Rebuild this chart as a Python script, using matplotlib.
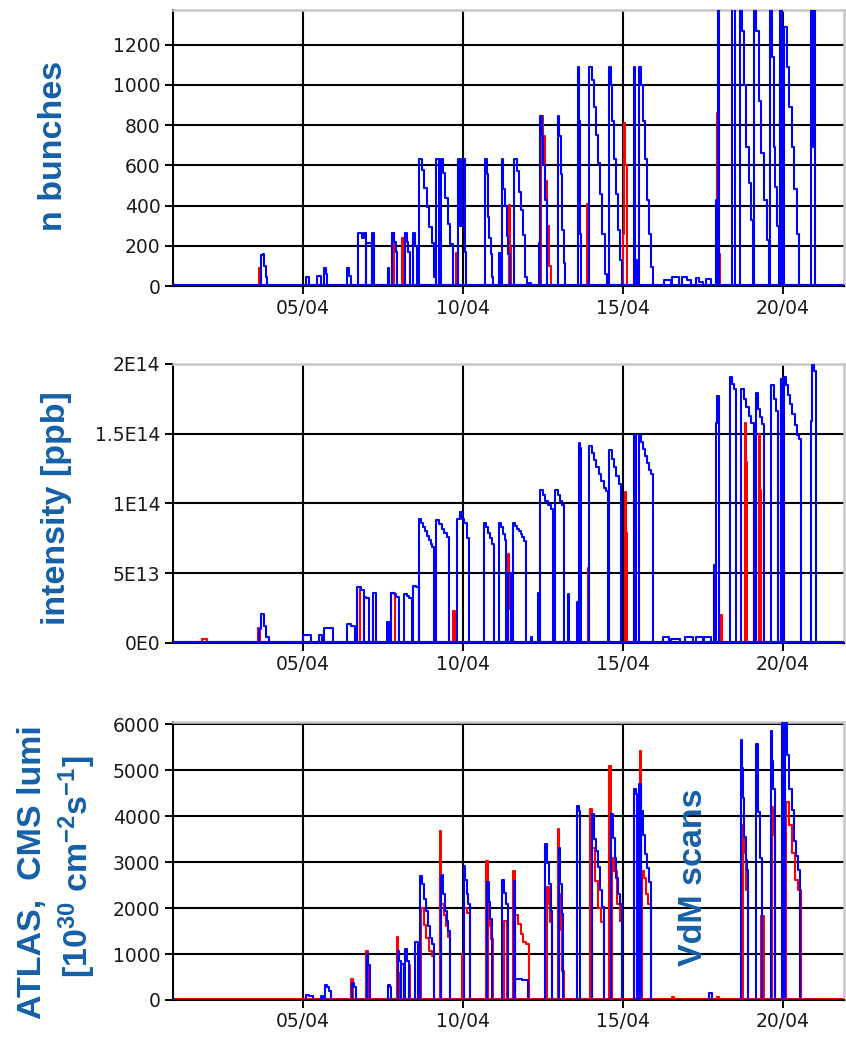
import numpy as np
import matplotlib.pyplot as plt

# x axis: day of April
day_ticks = [5, 10, 15, 20]
day_labels = ['05/04', '10/04', '15/04', '20/04']

# each fill: (start day, end day, step levels)
# --- n bunches ---
bunch_blue = [
    (3.68, 3.88, [154, 159, 100, 46]),
    (5.09, 5.20, [46]), (5.42, 5.56, [50]), (5.66, 5.75, [88, 60]),
    (6.38, 6.50, [88, 50]),
    (6.72, 6.98, [265, 265, 240, 265]), (6.98, 7.16, [212]), (7.16, 7.22, [265]),
    (7.66, 7.70, [88]), (7.78, 7.95, [265, 220, 170]),
    (8.20, 8.33, [265, 220, 170]), (8.45, 8.55, [265, 200]),
    (8.64, 9.17, [630, 577, 486, 395, 295, 212, 46]),
    (9.17, 9.26, [630]), (9.30, 9.75, [630, 560, 440, 310, 210, 5]),
    (9.86, 10.11, [630, 300, 630, 630, 170]),
    (10.70, 10.95, [630, 555, 345, 240, 160, 46]),
    (11.13, 11.20, [162]), (11.22, 11.47, [630, 480, 400, 250, 160]),
    (11.61, 12.02, [630, 570, 470, 380, 255, 46]),
    (12.08, 12.12, [15]),
    (12.37, 12.42, [212]), (12.42, 12.62, [846, 748, 600, 430]),
    (12.96, 13.20, [846, 745, 555, 280, 115]),
    (13.59, 13.68, [1091, 820, 260]),
    (13.96, 14.50, [1091, 1025, 890, 750, 610, 460, 260, 60]),
    (14.56, 14.97, [1091, 1000, 820, 630, 460, 280, 130]),
    (15.34, 15.40, [1091, 540]), (15.40, 15.45, [130]),
    (15.50, 15.95, [1091, 1000, 820, 630, 430, 260, 95]),
    (16.30, 16.50, [30]), (16.55, 16.75, [46]), (16.85, 17.15, [45, 30]),
    (17.30, 17.50, [40, 20]), (17.60, 17.75, [35]),
    (17.92, 17.96, [428]), (17.98, 18.02, [1400]),
    (18.42, 18.52, [1400, 1400]),
    (18.67, 19.07, [1400, 1270, 1000, 690, 510, 330]),
    (19.10, 19.58, [1400, 1270, 920, 660, 430, 230]),
    (19.60, 19.90, [1400, 1140, 690, 490, 300]),
    (19.93, 19.99, [1400]),
    (20.05, 20.52, [1290, 1090, 890, 690, 480, 260]),
    (20.90, 21.03, [1400, 690, 1400]),
]
bunch_red = [
    (3.62, 3.68, [88]), (7.78, 7.83, [265]), (8.10, 8.16, [240]),
    (9.78, 9.83, [162]), (11.44, 11.52, [403, 196]),
    (12.45, 12.75, [846, 748, 520, 300, 100]),
    (13.88, 13.93, [410]), (15.00, 15.12, [260, 809, 600]),
    (17.96, 18.05, [859, 160]), (19.93, 20.02, [1150, 1400, 800]),
]

# --- intensity [1e13 ppb] ---
inten_blue = [
    (3.62, 3.92, [1.0, 2.1, 1.2, 0.4]),
    (5.00, 5.25, [0.6]), (5.50, 5.60, [0.6]), (5.64, 5.95, [1.1]),
    (6.36, 6.62, [1.35, 1.2]),
    (6.70, 6.90, [4.0, 3.8]), (6.90, 7.05, [3.3, 3.2]), (7.20, 7.28, [3.6]),
    (7.64, 7.70, [1.5]), (7.76, 8.00, [3.6, 3.5, 3.3]),
    (8.17, 8.40, [3.5, 3.4, 3.2]), (8.45, 8.62, [4.1, 4.0]),
    (8.62, 9.11, [8.9, 8.6, 8.3, 8.0, 7.7, 7.4, 7.1, 6.9]),
    (9.17, 9.58, [8.8, 8.5, 8.2, 7.9, 7.6]),
    (9.82, 10.20, [8.9, 9.4, 8.9, 8.6, 7.5]),
    (10.67, 10.98, [8.6, 8.3, 7.9, 7.5, 7.1]),
    (11.14, 11.36, [8.6, 8.3, 7.8, 7.4]), (11.42, 11.50, [5.0]),
    (11.57, 11.98, [8.6, 8.4, 8.2, 8.0, 7.8, 7.6, 7.3]),
    (12.12, 12.16, [0.4]),
    (12.36, 12.42, [3.6]), (12.42, 12.83, [11.0, 10.6, 10.2, 9.9, 9.6]),
    (12.89, 13.17, [11.0, 10.6, 10.2, 9.9]),
    (13.28, 13.31, [3.5]),
    (13.57, 13.62, [2.9]), (13.63, 13.70, [14.3, 14.0]),
    (13.95, 14.55, [14.1, 13.6, 13.1, 12.6, 12.1, 11.6, 11.1, 10.9]),
    (14.58, 14.95, [13.8, 13.2, 12.6, 12.0, 11.4]),
    (15.35, 15.42, [14.9]),
    (15.50, 15.95, [14.9, 14.4, 13.9, 13.4, 12.9, 12.4, 12.1]),
    (16.25, 16.45, [0.4]), (16.50, 16.80, [0.3]), (16.95, 17.20, [0.45]),
    (17.30, 17.50, [0.4]), (17.55, 17.75, [0.45]),
    (17.85, 17.90, [5.6]), (17.92, 18.00, [15.8, 17.7]),
    (18.36, 18.55, [19.1, 18.6, 18.2]),
    (18.70, 19.10, [18.2, 17.5, 16.9, 16.3, 15.8]),
    (19.17, 19.42, [17.9, 16.8, 16.2, 15.7]),
    (19.63, 19.85, [18.5, 18.5, 17.5, 16.6]),
    (19.95, 20.02, [18.9]),
    (20.05, 20.57, [19.1, 18.5, 17.8, 17.1, 16.4, 15.6, 14.9, 14.6]),
    (20.88, 21.05, [15.9, 19.9, 19.5]),
]
inten_red = [
    (1.85, 2.00, [0.3]), (3.58, 3.65, [1.1]), (6.70, 6.78, [4.0]),
    (7.76, 7.86, [3.6]), (9.70, 9.76, [2.3]), (11.40, 11.50, [6.4, 4.5, 2.4]),
    (13.90, 13.96, [5.4, 3.9]), (15.07, 15.12, [10.8, 7.9]),
    (18.05, 18.10, [2.0]), (18.84, 18.90, [15.8, 13.0]),
    (19.10, 19.17, [9.4, 8.4]), (19.27, 19.33, [15.0, 11.0]),
    (19.95, 20.05, [18.9, 16.0, 13.0, 10.6]),
]

# --- ATLAS, CMS lumi [1e30 cm-2 s-1] ---
lumi_blue = [
    (5.10, 5.30, [116, 90]),
    (5.55, 5.62, [80]), (5.68, 5.86, [333, 290, 200]),
    (6.54, 6.64, [360, 290]),
    (6.99, 7.10, [1000, 760]),
    (7.67, 7.75, [330, 280]),
    (7.96, 8.05, [1072, 840]), (8.05, 8.15, [780]), (8.20, 8.30, [1100, 850]),
    (8.50, 8.60, [1253, 1253]),
    (8.67, 9.10, [2703, 2520, 2200, 1940, 1620, 1360, 1220]),
    (9.33, 9.60, [2710, 2300, 1940, 1720, 1510]),
    (10.02, 10.22, [2920, 2620, 2300, 2080]),
    (10.75, 10.92, [2560, 2130, 1770]),
    (11.22, 11.40, [2620, 2330, 2080]),
    (11.60, 11.64, [2600]), (11.64, 12.05, [456, 430]),
    (12.57, 12.80, [3391, 2990, 2520, 1940]),
    (13.00, 13.13, [3318, 2520, 1870]),
    (13.58, 13.66, [4224, 4120]),
    (14.03, 14.40, [4043, 3500, 3250, 2900, 2400, 2015]),
    (14.63, 14.97, [4043, 3530, 3100, 2660, 2300, 2100]),
    (15.36, 15.45, [4587, 4480]),
    (15.52, 15.58, [4700]), (15.58, 15.87, [4120, 3590, 3170, 2880, 2570]),
    (17.70, 17.78, [145]),
    (18.70, 18.92, [5652, 5050, 4400, 3550, 3040, 2830]),
    (19.17, 19.35, [5565, 4100, 3100]),
    (19.65, 19.75, [5855, 5200, 4590]),
    (19.98, 20.02, [6036]),
    (20.08, 20.55, [6036, 5340, 4590, 4140, 3460, 3130, 2830]),
]
lumi_red = [
    (6.50, 6.56, [456]), (6.98, 7.02, [1072]), (7.02, 7.08, [740]),
    (7.94, 7.98, [1362]), (8.00, 8.05, [580]), (8.30, 8.36, [760]),
    (8.70, 9.10, [2000, 1640, 1360, 1070, 950]),
    (9.28, 9.33, [3681]), (9.33, 9.60, [2100, 1850, 1600, 1380]),
    (9.97, 10.02, [1000, 420]), (10.05, 10.22, [2000, 1900]),
    (10.72, 10.78, [3029]), (10.78, 10.94, [1890, 1600, 1330]),
    (11.30, 11.38, [1720]),
    (11.58, 11.64, [2811]), (11.64, 12.06, [1860, 1650, 1440, 1260, 1217]),
    (12.62, 12.80, [2450, 2100, 1700]),
    (12.96, 13.00, [3717]), (13.00, 13.15, [2300, 1900, 1530, 640]),
    (13.98, 14.03, [4152]), (14.03, 14.43, [3300, 2600, 2000, 1700]),
    (14.58, 14.63, [5094]), (14.65, 14.99, [3100, 2800, 2100, 1720]),
    (15.45, 15.50, [1720]), (15.53, 15.57, [5420]),
    (15.60, 15.87, [2800, 2660, 2300, 2080]),
    (16.55, 16.60, [70]), (17.95, 18.00, [70]),
    (18.75, 18.93, [3800, 3200, 2400]),
    (19.32, 19.42, [1833]), (19.68, 19.75, [4200, 3600]),
    (20.10, 20.58, [4300, 3800, 3210, 2620, 2400]),
]

label_blue = '#1560a8'
x_lo, x_hi = 0.93, 21.92

plt.rcParams['font.family'] = 'DejaVu Sans'
plt.rcParams['mathtext.fontset'] = 'custom'
plt.rcParams['mathtext.rm'] = 'Liberation Sans:bold'
plt.rcParams['mathtext.it'] = 'Liberation Sans:bold'
plt.rcParams['mathtext.bf'] = 'Liberation Sans:bold'


def draw_fills(ax, fills, color, base, z):
    ax.plot([x_lo, x_hi], [base, base], color=color, lw=1.5, zorder=z)
    for t0, t1, levels in fills:
        edges = np.linspace(t0, t1, len(levels) + 1)
        xs = np.concatenate([[t0], edges])
        ys = np.concatenate([[base], levels, [base]])
        ax.plot(xs, ys, drawstyle='steps-post', color=color, lw=1.5, zorder=z)


def style_axes(ax, yticks, ylabels, ytop):
    ax.set_xlim(x_lo, x_hi)
    ax.set_ylim(0, ytop)
    ax.set_xticks(day_ticks)
    ax.set_xticklabels(day_labels)
    ax.set_yticks(yticks)
    ax.set_yticklabels(ylabels)
    ax.grid(True, color='black', lw=1.5)
    ax.set_axisbelow(True)
    ax.tick_params(direction='out', length=6, width=1.4, color='black',
                   labelsize=13.5, labelcolor='#1a1a1a', pad=3)
    for side in ['left', 'bottom']:
        ax.spines[side].set_color('black')
        ax.spines[side].set_linewidth(1.5)
    for side in ['top', 'right']:
        ax.spines[side].set_color('#c8c8c8')
        ax.spines[side].set_linewidth(1.8)


fig = plt.figure(figsize=(8.46, 10.37), dpi=100)
ax1 = fig.add_axes([0.2045, 0.7242, 0.793, 0.2662])
ax2 = fig.add_axes([0.2045, 0.3800, 0.793, 0.2690])
ax3 = fig.add_axes([0.2045, 0.0357, 0.793, 0.2680])

draw_fills(ax1, bunch_red, 'red', 5, 2)
draw_fills(ax1, bunch_blue, 'blue', 5, 3)
style_axes(ax1, [0, 200, 400, 600, 800, 1000, 1200],
           ['0', '200', '400', '600', '800', '1000', '1200'], 1373)

draw_fills(ax2, inten_red, 'red', 0.08, 2)
draw_fills(ax2, inten_blue, 'blue', 0.08, 3)
style_axes(ax2, [0, 5, 10, 15, 20],
           ['0E0', '5E13', '1E14', '1.5E14', '2E14'], 20)

draw_fills(ax3, lumi_red, 'red', 22, 2)
draw_fills(ax3, lumi_blue, 'blue', 8, 3)
style_axes(ax3, [0, 1000, 2000, 3000, 4000, 5000, 6000],
           ['0', '1000', '2000', '3000', '4000', '5000', '6000'], 6050)

ax3.text(17.23, 2680, 'VdM scans', rotation=90, ha='center', va='center',
         color=label_blue, fontsize=24.5, fontweight='bold',
         family='Liberation Sans', zorder=5)

lab = dict(rotation=90, ha='center', va='center', color=label_blue,
           fontsize=24.5, fontweight='bold', family='Liberation Sans')
fig.text(54 / 846, 1 - 146 / 1037, 'n bunches', **lab)
fig.text(57 / 846, 1 - 508 / 1037, 'intensity [ppb]', **lab)
fig.text(33 / 846, 1 - 872 / 1037, 'ATLAS,  CMS lumi', **lab)
fig.text(77 / 846, 1 - 867 / 1037,
         r'[10$^{\mathrm{30}}$ cm$^{\mathrm{-2}}$s$^{\mathrm{-1}}$]', **lab)

fig.savefig('out.png', dpi=100)
